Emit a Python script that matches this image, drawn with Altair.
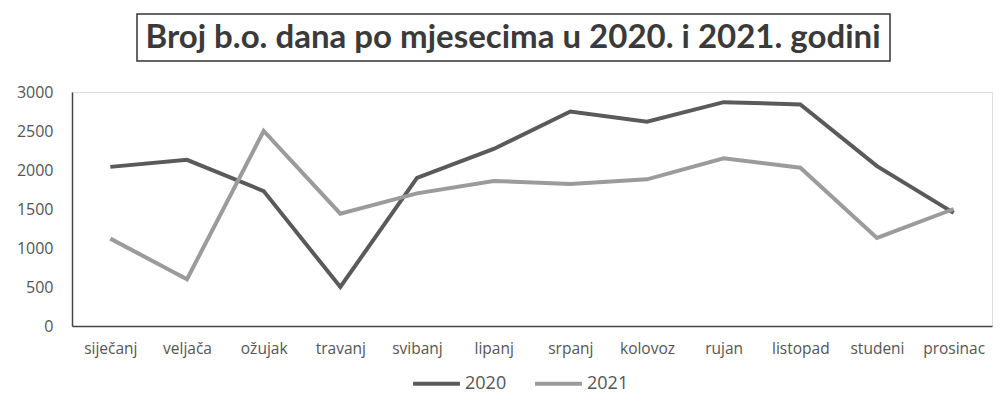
import altair as alt
import pandas as pd

months = ["siječanj", "veljača", "ožujak", "travanj", "svibanj", "lipanj",
          "srpanj", "kolovoz", "rujan", "listopad", "studeni", "prosinac"]
v2020 = [2040, 2130, 1730, 500, 1900, 2270, 2750, 2620, 2870, 2840, 2050, 1450]
v2021 = [1120, 600, 2500, 1440, 1700, 1860, 1820, 1880, 2150, 2030, 1130, 1500]
years = ["2020", "2021"]
title_text = "Broj b.o. dana po mjesecima u 2020. i 2021. godini"

rows = []
for y, vals in zip(years, [v2020, v2021]):
    for m, v in zip(months, vals):
        rows.append({"mjesec": m, "godina": y, "dani": v})
df = pd.DataFrame(rows)

FONT = "Open Sans"
TXT = "#555555"

lines = alt.Chart(df).mark_line(strokeWidth=4).encode(
    x=alt.X("mjesec:N", sort=months, title=None,
            axis=alt.Axis(labelAngle=0, labelFontSize=15.5, labelColor=TXT, labelFont=FONT,
                          ticks=False, labelPadding=15, domainColor="#444444",
                          domainWidth=1.5)),
    y=alt.Y("dani:Q", title=None, scale=alt.Scale(domain=[0, 3000], nice=False),
            axis=alt.Axis(values=[0, 500, 1000, 1500, 2000, 2500, 3000], grid=False,
                          format="d", ticks=False, labelPadding=19, labelFontSize=16,
                          labelColor=TXT, labelFont=FONT, domainColor="#444444",
                          domainWidth=1.5)),
    color=alt.Color("godina:N", scale=alt.Scale(domain=years, range=["#5a5a5a", "#9b9b9b"]),
                    legend=alt.Legend(orient="none", legendX=339, legendY=266,
                                      direction="horizontal", title=None,
                                      symbolType="stroke", symbolStrokeWidth=4, symbolSize=2200,
                                      labelFontSize=18, labelColor=TXT, labelFont=FONT,
                                      columnPadding=20, labelOffset=3)),
)

box = alt.Chart(alt.Data(values=[{}])).mark_rect(
    fill="white", stroke="#333333", strokeWidth=1.5, clip=False
).encode(x=alt.value(65), x2=alt.value(818), y=alt.value(-78), y2=alt.value(-31))

title = alt.Chart(alt.Data(values=[{}])).mark_text(
    text=title_text, font="Lato", fontSize=33, fontWeight="bold", color="#3a3a3a",
    align="center", baseline="middle", clip=False
).encode(x=alt.value(441), y=alt.value(-54))

chart = alt.layer(box, title, lines).properties(
    width=920, height=234,
    padding={"left": 8, "top": 5, "right": 5, "bottom": 5}
).configure_view(stroke=None).configure(background="white")

chart.save("out.html", embed_options={"renderer": "svg", "actions": False})
